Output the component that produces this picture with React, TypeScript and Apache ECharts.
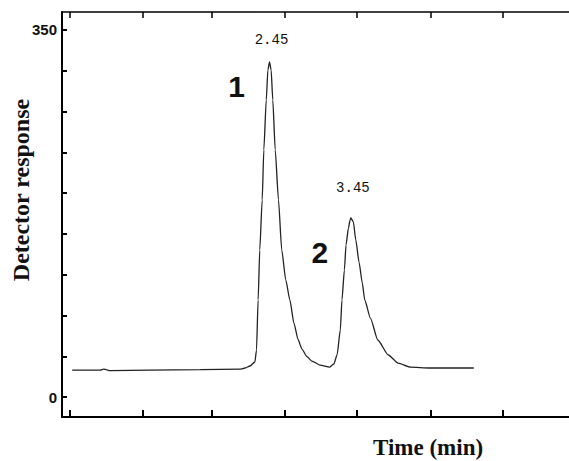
import React, { useEffect, useRef } from "react";
import * as echarts from "echarts";

// Chromatogram trace: [time (min), detector response]
const traceTimes = [
  0.025, 0.37, 0.41, 0.45, 0.49, 0.98, 1.6, 2.09, 2.15, 2.21, 2.27, 2.29, 2.31, 2.33, 2.36, 2.38,
  2.41, 2.43, 2.45, 2.47, 2.49, 2.52, 2.56, 2.6, 2.65, 2.7, 2.75, 2.8, 2.85, 2.91, 2.97, 3.07, 3.19,
  3.24, 3.28, 3.32, 3.34, 3.37, 3.39, 3.42, 3.44, 3.45, 3.48, 3.51, 3.55, 3.59, 3.62, 3.69,
  3.78, 3.91, 4.03, 4.18, 4.42, 4.96,
];
const traceValues = [
  25.7, 25.7, 26.7, 25.9, 25.2, 25.7, 26.2, 26.7, 27.7, 29.6, 33.4, 44.8, 92.5, 140.2, 187.9, 235.6,
  283.2, 311.8, 319.5, 311.8, 283.2, 235.6, 187.9, 140.2, 111.6, 92.5, 70.5, 55.0, 45.5, 38.5, 34.3, 30.5, 28.6,
  31.5, 40.1, 63.9, 92.5, 121.1, 145.0, 161.2, 168.8, 170.7, 166.9, 149.7, 128.7, 108.7, 92.5, 75.3,
  54.4, 40.1, 32.4, 28.6, 27.7, 27.7,
];

// Peaks
const peakTimes = [2.45, 3.45];
const peakHeights = [319.5, 170.7];
const peakTimeLabels = ["2.45", "3.45"];
const peakNumbers = ["1", "2"];

// Axis ticks
const xTickValues = [0, 0.887, 1.745, 2.64, 3.526, 4.435, 5.32];
const yTickValues = [0, 38.9, 77.8, 116.7, 155.6, 194.4, 233.3, 272.2, 311.1, 350];
const yLabelValues = [0, 350];

const xName = "Time (min)";
const yName = "Detector response";

export default function App() {
  const ref = useRef<HTMLDivElement>(null);

  useEffect(() => {
    if (!ref.current) return;
    const chart = echarts.init(ref.current, null, { renderer: "svg" });
    const data = traceTimes.map((t, i) => [t, traceValues[i]]);
    const timeOffsets = [
      [2, -22],
      [2, -30],
    ];
    const numOffsets = [
      [-33, 25],
      [-31, 35],
    ];
    const markData: any[] = [];
    peakTimes.forEach((t, i) => {
      markData.push({
        coord: [t, peakHeights[i]],
        label: {
          show: true,
          formatter: peakTimeLabels[i],
          offset: timeOffsets[i],
          fontFamily: "Liberation Mono",
          fontSize: 14,
          color: "#111",
        },
      });
      markData.push({
        coord: [t, peakHeights[i]],
        label: {
          show: true,
          formatter: peakNumbers[i],
          offset: numOffsets[i],
          fontFamily: "Liberation Sans",
          fontWeight: "bold",
          fontSize: 30,
          color: "#111",
        },
      });
    });

    const xAxisBase = {
      type: "value",
      min: -0.1,
      max: 6.13,
      splitLine: { show: false },
      axisLabel: { show: false },
    };

    chart.setOption({
      animation: false,
      backgroundColor: "#fff",
      grid: { left: 62, right: 0, top: 12, bottom: 44 },
      xAxis: [
        {
          ...xAxisBase,
          position: "bottom",
          axisLine: { show: true, onZero: false, lineStyle: { color: "#000", width: 2 } },
          axisTick: {
            show: true,
            inside: true,
            length: 7,
            customValues: xTickValues,
            lineStyle: { color: "#000", width: 2 },
          },
        },
        {
          ...xAxisBase,
          position: "top",
          axisLine: { show: true, onZero: false, lineStyle: { color: "#000", width: 1.5 } },
          axisTick: {
            show: true,
            inside: true,
            length: 6,
            customValues: xTickValues,
            lineStyle: { color: "#000", width: 1.5 },
          },
        },
      ],
      yAxis: {
        type: "value",
        min: -19,
        max: 367,
        splitLine: { show: false },
        axisLine: { show: true, onZero: false, lineStyle: { color: "#000", width: 2 } },
        axisTick: {
          show: true,
          inside: true,
          length: 5,
          customValues: yTickValues,
          lineStyle: { color: "#000", width: 2 },
        },
        axisLabel: {
          show: true,
          customValues: yLabelValues,
          margin: 5,
          fontFamily: "Liberation Sans",
          fontWeight: "bold",
          fontSize: 15,
          color: "#111",
          padding: [0, 0, 6, 0],
        },
      },
      graphic: [
        {
          type: "text",
          left: 373,
          top: 436,
          style: {
            text: xName,
            font: "bold 23px 'Liberation Serif'",
            fill: "#111",
          },
        },
        {
          type: "text",
          x: 21,
          y: 190,
          rotation: Math.PI / 2,
          style: {
            text: yName,
            font: "bold 24px 'Liberation Serif'",
            fill: "#111",
            align: "center",
            verticalAlign: "middle",
          },
        },
      ],
      series: [
        {
          type: "line",
          xAxisIndex: 0,
          data,
          showSymbol: false,
          smooth: 0.2,
          smoothMonotone: "x",
          lineStyle: { color: "#222", width: 1.3 },
          markPoint: {
            symbol: "circle",
            symbolSize: 0,
            data: markData,
          },
        },
      ],
    });
    return () => chart.dispose();
  }, []);

  return (
    <div
      ref={ref}
      style={{ position: "fixed", left: 0, top: 0, width: 569, height: 461, background: "#fff" }}
    />
  );
}
